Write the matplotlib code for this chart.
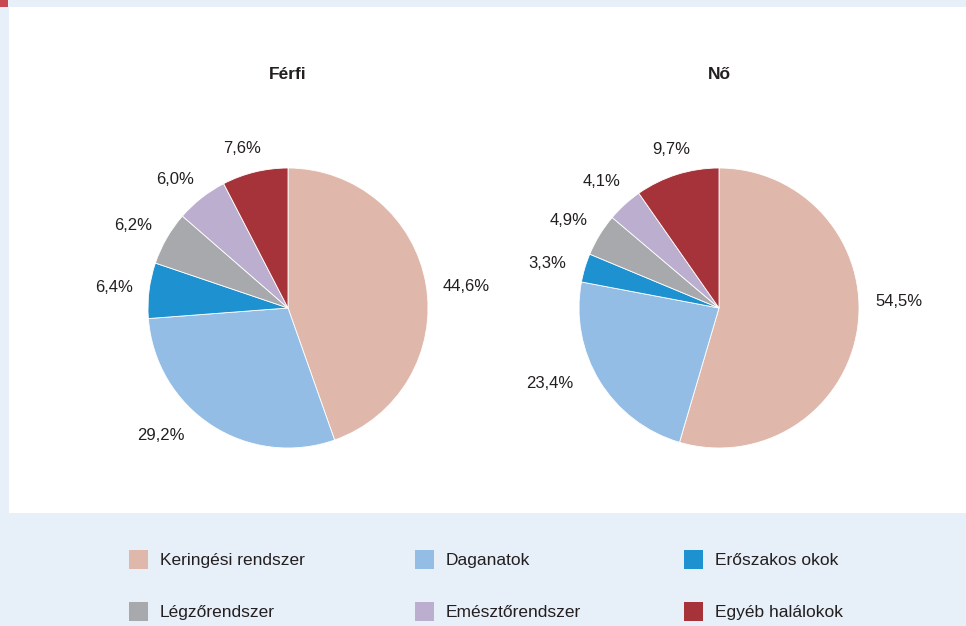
import matplotlib
matplotlib.use("Agg")
import numpy as np
import matplotlib.pyplot as plt
from matplotlib.patches import Rectangle

# causes of death, share by sex
categories = ["Keringési rendszer", "Daganatok", "Erőszakos okok",
              "Légzőrendszer", "Emésztőrendszer", "Egyéb halálokok"]
colors = ["#e0b7ab", "#93bde5", "#1e91d0", "#a7a9ac", "#bcaecf", "#a7333a"]
ferfi = [44.6, 29.2, 6.4, 6.2, 6.0, 7.6]
no = [54.5, 23.4, 3.3, 4.9, 4.1, 9.7]
titles = ["Férfi", "Nő"]

# where each percentage label sits: (angle in degrees, distance in pie radii)
ferfi_label_pos = [(7.4, 1.28), (-135.4, 1.28), (172.8, 1.25),
                   (151.7, 1.26), (131.0, 1.23), (106.0, 1.20)]
no_label_pos = [(2.5, 1.29), (-156.3, 1.32), (165.0, 1.27),
                (149.5, 1.25), (132.4, 1.24), (106.7, 1.19)]

plt.rcParams["font.family"] = ["Liberation Sans", "DejaVu Sans"]
text_color = "#231f20"

W, H = 966, 626
fig = plt.figure(figsize=(W / 100, H / 100), dpi=100)
fig.patch.set_facecolor("#e7eff9")

# white panel and red corner mark
fig.patches.append(Rectangle((9 / W, (H - 513) / H), 1 - 9 / W, (513 - 7) / H,
                             transform=fig.transFigure, facecolor="white",
                             edgecolor="none", zorder=-10))
fig.patches.append(Rectangle((0, (H - 7) / H), 8 / W, 7 / H,
                             transform=fig.transFigure, facecolor="#c9474e",
                             edgecolor="none", zorder=-10))

radius_px = 140
box = 400
for cx, values, title, label_pos in [(288, ferfi, titles[0], ferfi_label_pos),
                                     (719, no, titles[1], no_label_pos)]:
    cy = 308
    ax = fig.add_axes([(cx - box / 2) / W, (H - cy - box / 2) / H, box / W, box / H])
    ax.set_zorder(1)
    ax.set_facecolor("none")
    wedges, texts = ax.pie(values, colors=colors, startangle=90, counterclock=False,
                           labels=[f"{v:.1f}%".replace(".", ",") for v in values],
                           wedgeprops=dict(edgecolor="white", linewidth=0.6),
                           textprops=dict(fontsize=12, color=text_color))
    for t, (ang, dist) in zip(texts, label_pos):
        a = np.deg2rad(ang)
        t.set_position((dist * np.cos(a), dist * np.sin(a)))
        t.set_ha("center")
        t.set_va("center_baseline")
    lim = box / 2 / radius_px
    ax.set_xlim(-lim, lim)
    ax.set_ylim(-lim, lim)
    ax.set_aspect("equal")
    ax.axis("off")
    fig.text(cx / W, (H - 73) / H, title, ha="center", va="center_baseline",
             fontsize=12.5, fontweight="bold", color=text_color)

# legend, three columns, two rows
col_x = [129, 415, 684]
row_y = [559, 611]
sq = 19
for i, (name, c) in enumerate(zip(categories, colors)):
    x = col_x[i % 3]
    y = row_y[i // 3]
    fig.patches.append(Rectangle((x / W, (H - y - sq / 2) / H), sq / W, sq / H,
                                 transform=fig.transFigure, facecolor=c,
                                 edgecolor="none"))
    fig.text((x + 31) / W, (H - y) / H, name, ha="left", va="center_baseline",
             fontsize=12.5, color=text_color)

fig.savefig("out.png", dpi=100, facecolor=fig.get_facecolor())
